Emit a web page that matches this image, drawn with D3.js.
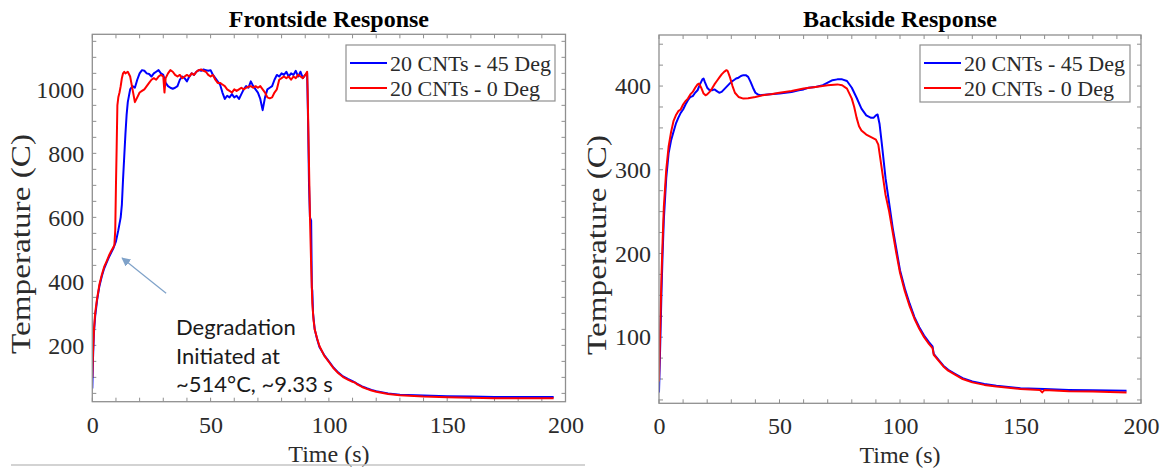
<!DOCTYPE html>
<html><head><meta charset="utf-8">
<script src="https://cdn.jsdelivr.net/npm/d3@7"></script>
<style>
html,body{margin:0;padding:0;background:#fff;}
svg{display:block;}
</style></head>
<body>
<script>
// ---------- DATA ----------
const seriesNames = ["20 CNTs - 45 Deg", "20 CNTs - 0 Deg"];
const seriesColors = ["#0000ff", "#ff0000"];
const xTicks = [0, 50, 100, 150, 200];
const frontYTicks = [200, 400, 600, 800, 1000];
const backYTicks = [100, 200, 300, 400];

// Frontside, 45 deg (blue): [time s, temperature C]
const front45 = [[0,65],[0.3,160],[0.7,240],[1.2,290],[2,340],[3,385],[4,415],[5,440],[6,458],[7,475],[8,490],[9,505],[10,525],[11,560],[12,600],[12.5,640],[13,720],[13.5,790],[14,860],[14.5,920],[15,960],[16,1000],[17,1010],[18,1005],[19,1030],[20,1050],[21,1060],[22,1058],[23,1050],[24,1048],[25,1040],[26,1050],[27,1055],[28,1060],[29,1050],[30,1045],[31,1020],[32,1010],[33,1005],[34,1002],[35,1005],[36,1010],[37,1030],[38,1040],[39,1035],[40,1025],[41,1040],[42,1050],[43,1045],[44,1055],[45,1060],[46,1058],[47,1062],[48,1060],[49,1058],[50,1060],[51,1045],[52,1035],[53,1025],[54,1015],[55,990],[56,970],[57,980],[58,975],[59,985],[60,975],[61,980],[62,970],[63,985],[64,1000],[65,1010],[66,1005],[67,1025],[68,1010],[69,1000],[70,990],[71,970],[72,935],[73,975],[74,1000],[75,1005],[76,1010],[77,1030],[78,1045],[79,1040],[80,1050],[81,1045],[82,1055],[83,1040],[84,1050],[85,1045],[86,1058],[87,1040],[88,1055],[89,1035],[90,1045],[90.8,1050],[91.2,900],[91.6,700],[92,600],[92.5,590],[92.8,380],[93,370],[93.3,300],[94,250],[95,220],[96,195],[98,170],[100,150],[102,130],[104,115],[106,103],[108,95],[110,88],[112,80],[114,72],[116,66],[118,61],[120,57],[125,50],[130,46],[140,43],[150,41],[160,40],[170,39],[180,39],[195,39]];

// Frontside, 0 deg (red)
const front0 = [[0,100],[0.3,180],[0.7,250],[1.2,300],[2,345],[3,390],[4,420],[5,445],[6,462],[7,480],[8,495],[9,508],[9.33,514],[9.7,560],[10,700],[10.3,820],[10.6,950],[11,975],[11.5,990],[12,1010],[12.5,1035],[13,1050],[13.5,1055],[14,1050],[15,1055],[16,1040],[17,1000],[18,960],[19,975],[20,990],[21,995],[22,1000],[23,1010],[24,1020],[25,1030],[26,1035],[27,1030],[28,1040],[29,1045],[30,1040],[30.5,990],[31,1035],[32,1050],[33,1060],[34,1055],[35,1045],[36,1040],[37,1045],[38,1035],[39,1040],[40,1045],[41,1040],[42,1050],[43,1045],[44,1055],[45,1060],[46,1062],[47,1058],[48,1055],[49,1045],[50,1040],[51,1045],[52,1030],[53,1020],[54,1020],[55,1015],[56,1010],[57,1000],[58,995],[59,990],[60,1000],[61,995],[62,1000],[63,1005],[64,1000],[65,1005],[66,1008],[67,1010],[68,1005],[69,1010],[70,1005],[71,1010],[72,1000],[73,990],[74,975],[75,972],[76,975],[77,990],[78,1000],[79,1030],[80,1035],[81,1040],[82,1035],[83,1040],[84,1030],[85,1040],[86,1035],[87,1045],[88,1040],[89,1035],[90,1045],[90.8,1055],[91,1000],[91.5,800],[92,600],[92.5,450],[93,330],[93.5,280],[94,250],[95,222],[96,198],[98,168],[100,148],[102,128],[104,113],[106,101],[108,93],[110,86],[111,84],[112,78],[114,70],[116,64],[118,59],[120,55],[125,48],[130,44],[140,40],[150,38],[160,36],[170,35],[180,35],[195,35]];

// Backside, 45 deg (blue)
const back45 = [[0,34],[0.5,90],[1,150],[1.5,200],[2,240],[3,290],[4,320],[5,335],[6,345],[7,355],[8,362],[9,368],[10,372],[11,378],[12,383],[13,387],[14,388],[15,392],[16,395],[17,402],[18,408],[18.5,409],[19,405],[20,398],[21,395],[22,395],[23,396],[24,394],[25,392],[26,393],[27,396],[28,399],[29,402],[30,405],[31,407],[32,409],[33,410],[34,412],[35,413],[36,413],[37,411],[38,405],[39,398],[40,392],[41,390],[42,389],[45,390],[50,391],[55,393],[58,395],[60,396],[62,398],[65,399],[68,401],[70,404],[72,407],[74,408],[76,408],[78,406],[80,398],[82,386],[84,373],[86,365],[88,362],[89,362],[90,365],[90.7,366],[91.5,355],[92.5,330],[94,290],[95.5,260],[97,230],[98.5,205],[100,180],[102,158],[104,140],[106,124],[108,112],[110,102],[112,94],[113.5,89],[114,80],[116,73],[118,66],[120,61],[123,56],[126,51],[130,47],[135,44],[140,42],[150,39],[160,38],[170,37],[180,36.5],[194,36]];

// Backside, 0 deg (red)
const back0 = [[0,47],[0.5,110],[1,170],[1.5,215],[2,255],[3,300],[4,328],[5,345],[6,358],[7,365],[8,370],[9,372],[10,378],[11,382],[12,385],[13,390],[14,393],[15,398],[16,402],[16.6,403],[17.5,398],[18.5,391],[19.3,389],[20,390],[21,393],[22,397],[23,402],[24,406],[25,410],[26,414],[27,417],[28,419],[28.5,418],[29.5,410],[30.5,400],[31.5,392],[33,387],[35,385],[37,385.5],[40,387],[43,389],[47,390.5],[50,392],[55,394],[60,397],[65,399],[70,401],[74,402],[76,401],[78,397],[79,391],[80,385],[81,375],[82,362],[83,352],[84,347],[86,342],[88,339],[90,336],[91,330],[92,310],[93,290],[94,270],[95.5,250],[97,225],[98.5,200],[100,177],[102,155],[104,137],[106,122],[108,110],[110,100],[112,92],[113.5,87],[114,79],[116,72],[118,65],[120,60],[123,55],[126,50],[130,46],[135,43],[140,41],[150,38],[158,37],[159,34],[160,37],[170,35.5],[180,35],[194,34]];

const annotationLines = ["Degradation", "Initiated at", "~514\u00B0C, ~9.33 s"];
const arrowFrom = [31.2, 363], arrowTo = [12.6, 473]; // [time, temperature]

// ---------- DRAW ----------
const W = 1167, H = 468;
const svg = d3.select("body").append("svg").attr("width", W).attr("height", H);
svg.append("rect").attr("width", W).attr("height", H).attr("fill", "#fff");

const SERIF = "'Liberation Serif', 'Times New Roman', serif";
const axisColor = "#8f8f8f";
const textColor = "#2b2b2b";

function panel(cfg) {
  const {id, left, right, top, bottom, xDomain, yDomain, yTicks, yMinorStep, title, data, legend} = cfg;
  const x = d3.scaleLinear().domain(xDomain).range([left, right]);
  const y = d3.scaleLinear().domain(yDomain).range([bottom, top]);
  const g = svg.append("g");

  svg.append("clipPath").attr("id", "clip" + id).append("rect")
    .attr("x", left).attr("y", top).attr("width", right - left).attr("height", bottom - top);

  const xMinor = d3.range(xDomain[0], xDomain[1] + 0.001, 10);
  const yMinor = d3.range(Math.ceil(yDomain[0] / yMinorStep) * yMinorStep, yDomain[1] + 0.001, yMinorStep);
  const tl = 4;
  const tg = g.append("g").attr("stroke", axisColor).attr("stroke-width", 1);
  xMinor.forEach(v => {
    const px = x(v);
    tg.append("line").attr("x1", px).attr("x2", px).attr("y1", bottom).attr("y2", bottom - tl);
    tg.append("line").attr("x1", px).attr("x2", px).attr("y1", top).attr("y2", top + tl);
  });
  yMinor.forEach(v => {
    const py = y(v);
    tg.append("line").attr("x1", left).attr("x2", left + tl).attr("y1", py).attr("y2", py);
    tg.append("line").attr("x1", right).attr("x2", right - tl).attr("y1", py).attr("y2", py);
  });

  const xAxis = d3.axisBottom(x).tickValues(xTicks).tickSize(0).tickPadding(14).tickFormat(d3.format("d"));
  const yAxis = d3.axisLeft(y).tickValues(yTicks).tickSize(0).tickPadding(8).tickFormat(d3.format("d"));
  const gx = g.append("g").attr("transform", `translate(0,${bottom})`).call(xAxis);
  const gy = g.append("g").attr("transform", `translate(${left},0)`).call(yAxis);
  [gx, gy].forEach(a => {
    a.attr("font-family", null).attr("font-size", null);
    a.select(".domain").remove();
    a.selectAll("text").style("font-family", SERIF).style("font-size", "24px").attr("fill", textColor);
  });

  const line = d3.line().x(d => x(d[0])).y(d => y(d[1]));
  const lg = g.append("g").attr("clip-path", `url(#clip${id})`);
  data.forEach((s, i) => {
    lg.append("path").datum(s).attr("d", line).attr("fill", "none")
      .attr("stroke", seriesColors[i]).attr("stroke-width", 2).attr("stroke-linejoin", "round");
  });

  g.append("rect").attr("x", left).attr("y", top).attr("width", right - left).attr("height", bottom - top)
    .attr("fill", "none").attr("stroke", axisColor).attr("stroke-width", 1.3);

  g.append("text").attr("x", (left + right) / 2).attr("y", 27).attr("text-anchor", "middle")
    .style("font-family", SERIF).style("font-weight", "bold").style("font-size", "24px").attr("fill", "#000").text(title);
  g.append("text").attr("x", (left + right) / 2).attr("y", bottom + 60).attr("text-anchor", "middle")
    .style("font-family", SERIF).style("font-size", "24px").attr("fill", textColor).text("Time (s)");
  g.append("text").attr("transform", `translate(${cfg.yLabelX},${cfg.yLabelY}) rotate(-90)`)
    .attr("text-anchor", "middle").style("font-family", SERIF).style("font-size", "27px").attr("fill", textColor)
    .attr("textLength", 220).attr("lengthAdjust", "spacingAndGlyphs")
    .text("Temperature (C)");

  const L = legend;
  g.append("rect").attr("x", L.x).attr("y", L.y).attr("width", L.w).attr("height", L.h)
    .attr("fill", "#fff").attr("stroke", axisColor).attr("stroke-width", 1.2);
  seriesNames.forEach((n, i) => {
    const ry = L.y + 18 + i * 25;
    g.append("line").attr("x1", L.x + 4).attr("x2", L.x + 41).attr("y1", ry).attr("y2", ry)
      .attr("stroke", seriesColors[i]).attr("stroke-width", 2);
    g.append("text").attr("x", L.x + 44).attr("y", ry + 7.5).style("font-family", SERIF).style("font-size", "22px")
      .attr("fill", textColor).text(n);
  });
  return {x, y, g};
}

const P1 = panel({
  id: 1, left: 92.3, right: 565.5, top: 34.3, bottom: 401.7,
  xDomain: [0, 200], yDomain: [24, 1172], yTicks: frontYTicks, yMinorStep: 50,
  title: "Frontside Response", data: [front45, front0], yLabelX: 30, yLabelY: 244,
  legend: {x: 346, y: 45, w: 209, h: 56}
});
const P2 = panel({
  id: 2, left: 659, right: 1141, top: 35, bottom: 403.3,
  xDomain: [0, 200], yDomain: [21, 461], yTicks: backYTicks, yMinorStep: 25,
  title: "Backside Response", data: [back45, back0], yLabelX: 606, yLabelY: 245,
  legend: {x: 920, y: 45, w: 210, h: 57}
});

// annotation arrow
const defs = svg.append("defs");
defs.append("marker").attr("id", "ah").attr("viewBox", "0 0 10 10").attr("refX", 9).attr("refY", 5)
  .attr("markerWidth", 9).attr("markerHeight", 9).attr("markerUnits", "userSpaceOnUse").attr("orient", "auto")
  .append("path").attr("d", "M0,0 L10,5 L0,10 z").attr("fill", "#7fa2c9");
svg.append("line")
  .attr("x1", P1.x(arrowFrom[0])).attr("y1", P1.y(arrowFrom[1]))
  .attr("x2", P1.x(arrowTo[0])).attr("y2", P1.y(arrowTo[1]))
  .attr("stroke", "#7fa2c9").attr("stroke-width", 1.2).attr("marker-end", "url(#ah)");

annotationLines.forEach((t, i) => {
  svg.append("text").attr("x", 176).attr("y", 335 + i * 28.5)
    .style("font-family", "Lato, 'Open Sans', sans-serif").style("font-size", "22px").attr("fill", "#1a1a1a").text(t);
});

svg.append("line").attr("x1", 11).attr("x2", 585).attr("y1", 465).attr("y2", 465)
  .attr("stroke", "#c4c4c4").attr("stroke-width", 1.5);
</script>
</body></html>
